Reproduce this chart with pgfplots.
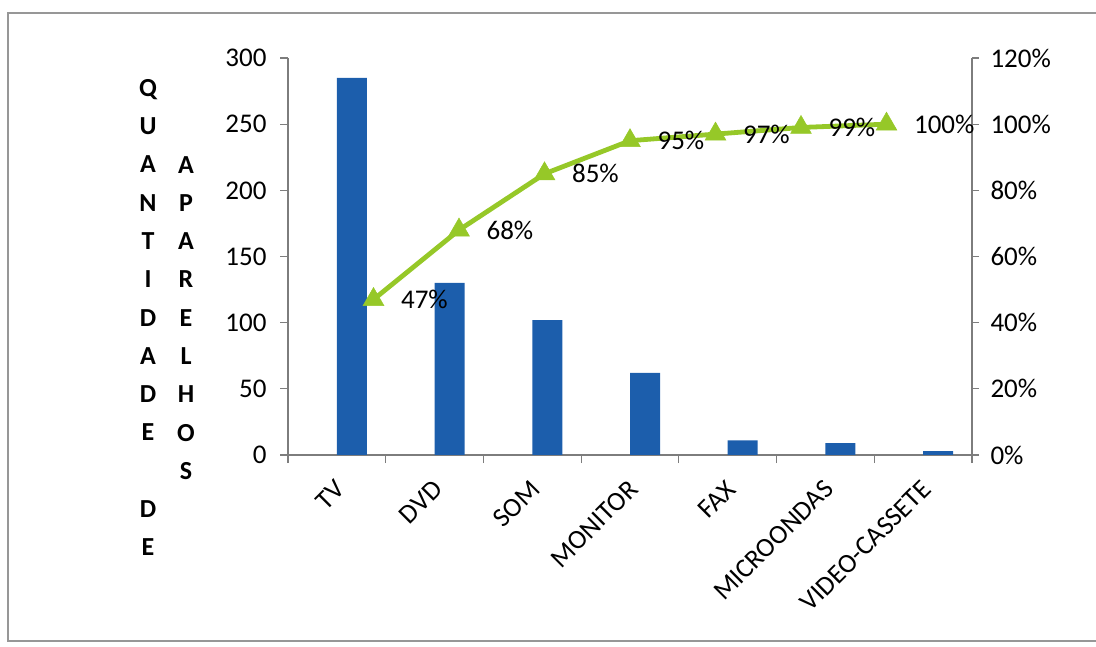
\documentclass[border=0pt]{standalone}
\usepackage{pgfplots}
\pgfplotsset{compat=1.18}
\usepackage{fontspec}
\setmainfont{Carlito}

\definecolor{barblue}{RGB}{28,94,172}
\definecolor{paretogreen}{RGB}{150,200,40}
\definecolor{axisgray}{RGB}{125,125,125}
\newcommand\chartfont{\fontsize{27}{32}\selectfont}
\newcommand\titlefont{\fontsize{26}{38.3}\selectfont\bfseries}

\pgfplotsset{
  pareto frame/.style={
    at={(288pt,191pt)}, anchor=south west,
    scale only axis, width=684pt, height=397pt,
    axis line style={axisgray, line width=1.4pt},
    every tick/.style={axisgray, line width=1.2pt},
    tick align=outside, major tick length=7pt,
    tick label style={font=\chartfont, text=black},
    /pgf/number format/assume math mode=true,
  },
}

\begin{document}
\begin{tikzpicture}
\path[use as bounding box] (0pt,0pt) rectangle (1096pt,646pt);
\draw[axisgray!80, line width=1.5pt] (1100pt,633pt) -- (8pt,633pt) -- (8pt,5pt) -- (1100pt,5pt);

% stacked axis title
\node[font=\titlefont, align=center, anchor=north, inner sep=0pt]
  at (148pt,567pt) {Q\\U\\A\\N\\T\\I\\D\\A\\D\\E\\[38.3pt]D\\E};
\node[font=\titlefont, align=center, anchor=north, inner sep=0pt]
  at (186pt,490pt) {A\\P\\A\\R\\E\\L\\H\\O\\S};

% quantities per item
\begin{axis}[
  pareto frame,
  xmin=-0.5, xmax=6.5, ymin=0, ymax=300,
  axis x line*=bottom, axis y line*=left,
  ytick={0,50,...,300},
  yticklabel style={xshift=-10pt},
  xtick={-0.5,0.5,...,6.5}, xticklabels={},
  major tick length=8pt,
  extra x ticks={0,1,2,3,4,5,6},
  extra x tick labels={TV,DVD,SOM,MONITOR,FAX,MICROONDAS,VIDEO-CASSETE},
  extra x tick style={major tick length=0pt,
    tick label style={rotate=45, anchor=east, yshift=-23.5pt, xshift=-15.4pt}},
]
\addplot[ybar, bar width=30pt, bar shift=15pt, fill=barblue, draw=none]
  coordinates {(0,285) (1,130) (2,102) (3,62) (4,11) (5,9) (6,3)};
\end{axis}

% cumulative percentage
\begin{axis}[
  pareto frame,
  xmin=0, xmax=8, ymin=0, ymax=120,
  axis x line=none, axis y line*=right,
  ytick={0,20,...,120},
  yticklabel style={xshift=8pt},
  yticklabel={\pgfmathprintnumber{\tick}\%},
]
\addplot[paretogreen, line width=4.8pt, mark=triangle*, mark size=12pt,
  mark options={fill=paretogreen, draw=paretogreen, line width=0.5pt},
  nodes near coords={\pgfmathprintnumber{\pgfplotspointmeta}\%},
  nodes near coords align={anchor=west},
  every node near coord/.append style={font=\chartfont, text=black, xshift=24pt}]
  coordinates {(1,47) (2,68) (3,85) (4,95) (5,97) (6,99) (7,100)};
\end{axis}
\end{tikzpicture}
\end{document}
